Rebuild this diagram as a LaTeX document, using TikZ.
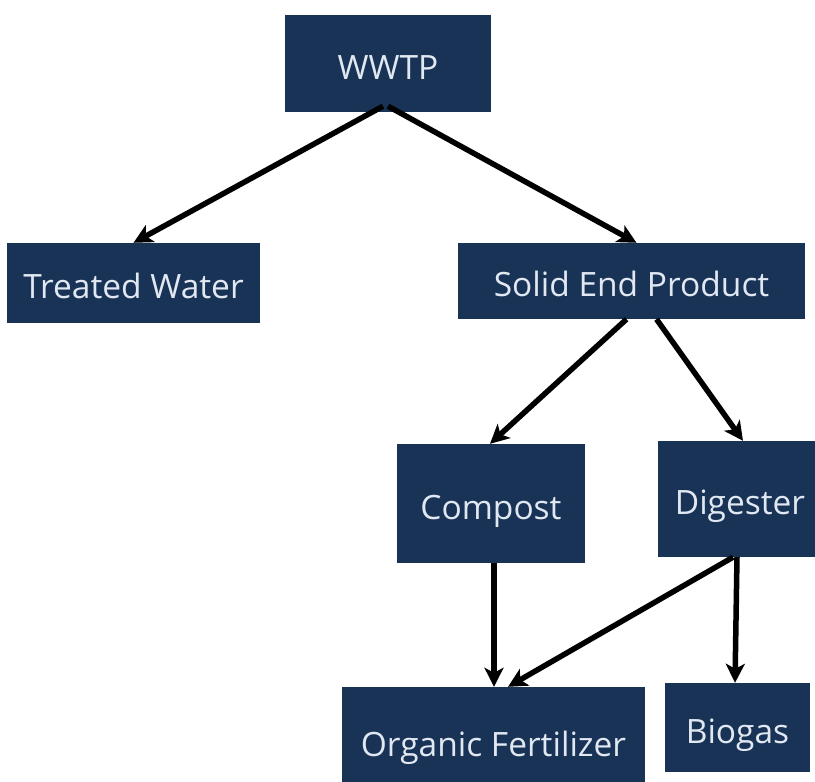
\documentclass[tikz,border=0pt]{standalone}
\usepackage{fontspec}
\setmainfont{Open Sans}
\usetikzlibrary{arrows.meta,calc}
\definecolor{boxfill}{RGB}{24,51,86}
\definecolor{boxtext}{RGB}{225,232,242}
\tikzset{
  box/.style={rectangle, fill=boxfill, text=boxtext, inner sep=0pt, font=\fontsize{33.5}{38}\selectfont, text height=31pt, text depth=0pt},
  arr/.style={line width=5.5pt, -{Stealth[length=19pt,width=19pt,inset=5pt]}, black}
}
\begin{document}
\begin{tikzpicture}[x=1pt,y=-1pt]
\useasboundingbox (0,0) rectangle (815,782);
\clip (0,0) rectangle (815,782);
\fill[white] (0,0) rectangle (815,782);
\node[box, minimum width=206pt, minimum height=97pt] (wwtp) at (388,63.5) {WWTP};
\node[box, minimum width=253pt, minimum height=80pt] (tw) at (133.5,283) {Treated Water};
\node[box, minimum width=347pt, minimum height=76pt] (sep) at (631.5,281) {Solid End Product};
\node[box, minimum width=188pt, minimum height=119pt] (comp) at (491,503.5) {Compost};
\node[box, minimum width=164pt, minimum height=116pt] (dig) at (740,499) {Digester};
\node[box, minimum width=303pt, minimum height=108pt] (of) at (493.5,741) {Organic Fertilizer};
\node[box, minimum width=145pt, minimum height=89pt] (bio) at (737.5,727.5) {Biogas};
\draw[arr] ($(wwtp.south)+(-5,-6)$) -- ($(tw.north)+(0,0)$);
\draw[arr] ($(wwtp.south)+(0,-6)$) -- ($(sep.north)+(5,0)$);
\draw[arr] ($(sep.south)+(-5,0)$) -- ($(comp.north)+(-1,0)$);
\draw[arr] ($(sep.south)+(25,0)$) -- ($(dig.north)+(3,0)$);
\draw[arr] ($(comp.south)+(3,0)$) -- ($(of.north)+(0.5,0)$);
\draw[arr] ($(dig.south)+(-7,0)$) -- ($(of.north)+(14.5,0)$);
\draw[arr] ($(dig.south)+(-3,0)$) -- ($(bio.north)+(-2.5,0)$);
\end{tikzpicture}
\end{document}
